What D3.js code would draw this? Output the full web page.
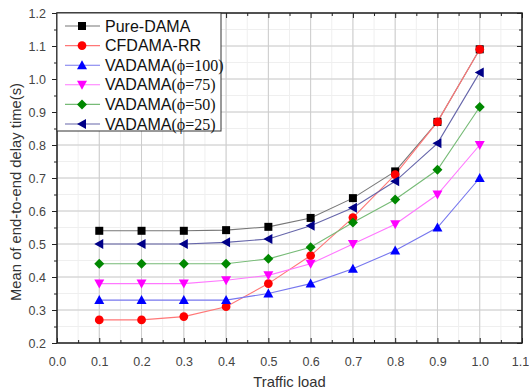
<!DOCTYPE html>
<html>
<head>
<meta charset="utf-8">
<script src="https://cdn.jsdelivr.net/npm/d3@7"></script>
<style>
  body { margin: 0; background: #fff; }
  text { font-family: "Liberation Sans", Arial, sans-serif; }
</style>
</head>
<body>
<div id="chart"></div>
<script>
// data
const loads = [0.1, 0.2, 0.3, 0.4, 0.5, 0.6, 0.7, 0.8, 0.9, 1.0];
const pureDama = [0.54, 0.54, 0.54, 0.542, 0.552, 0.579, 0.639, 0.72, 0.87, 1.09];
const cfdamaRR = [0.27, 0.27, 0.28, 0.31, 0.38, 0.465, 0.58, 0.71, 0.87, 1.09];
const vadama100 = [0.33, 0.33, 0.33, 0.33, 0.35, 0.38, 0.425, 0.48, 0.55, 0.70];
const vadama75 = [0.38, 0.38, 0.38, 0.39, 0.405, 0.44, 0.50, 0.56, 0.65, 0.80];
const vadama50 = [0.44, 0.44, 0.44, 0.44, 0.455, 0.49, 0.565, 0.635, 0.725, 0.915];
const vadama25 = [0.50, 0.50, 0.50, 0.505, 0.515, 0.555, 0.61, 0.69, 0.805, 1.02];
const xTicks = [0, 0.1, 0.2, 0.3, 0.4, 0.5, 0.6, 0.7, 0.8, 0.9, 1.0, 1.1];
const yTicks = [0.2, 0.3, 0.4, 0.5, 0.6, 0.7, 0.8, 0.9, 1.0, 1.1, 1.2];

const series = [
    { name: 'Pure-DAMA', phi: null, values: pureDama, color: '#000', line: '#777', shape: 'square' },
    { name: 'CFDAMA-RR', phi: null, values: cfdamaRR, color: '#f00', line: '#f77', shape: 'circle' },
    { name: 'VADAMA', phi: '100', values: vadama100, color: '#00f', line: '#77e', shape: 'up' },
    { name: 'VADAMA', phi: '75', values: vadama75, color: '#f0f', line: '#f7f', shape: 'down' },
    { name: 'VADAMA', phi: '50', values: vadama50, color: '#080', line: '#7b7', shape: 'diamond' },
    { name: 'VADAMA', phi: '25', values: vadama25, color: '#008', line: '#66a', shape: 'left' }
];

const W = 529, H = 389;
const margin = { top: 13, right: 7, bottom: 46, left: 57 };
const width = W - margin.left - margin.right;
const height = H - margin.top - margin.bottom;

const svg = d3.select('#chart').append('svg')
    .attr('width', W).attr('height', H);
const g = svg.append('g')
    .attr('transform', 'translate(' + margin.left + ',' + margin.top + ')');

const x = d3.scaleLinear().domain([0, 1.1]).range([0, width]);
const y = d3.scaleLinear().domain([0.2, 1.2]).range([height, 0]);

const minorX = d3.range(0, 1.1001, 0.05);
const minorY = d3.range(0.2, 1.2001, 0.05);

// minor grid
g.append('g').selectAll('line').data(minorX).enter().append('line')
    .attr('x1', d => x(d)).attr('x2', d => x(d)).attr('y1', 0).attr('y2', height)
    .attr('stroke', '#efefef');
g.append('g').selectAll('line').data(minorY).enter().append('line')
    .attr('y1', d => y(d)).attr('y2', d => y(d)).attr('x1', 0).attr('x2', width)
    .attr('stroke', '#efefef');
// major grid
g.append('g').selectAll('line').data(xTicks).enter().append('line')
    .attr('x1', d => x(d)).attr('x2', d => x(d)).attr('y1', 0).attr('y2', height)
    .attr('stroke', '#ccc');
g.append('g').selectAll('line').data(yTicks).enter().append('line')
    .attr('y1', d => y(d)).attr('y2', d => y(d)).attr('x1', 0).attr('x2', width)
    .attr('stroke', '#ccc');

// axes
function styleAxis(sel) {
    sel.select('.domain').remove();
    sel.selectAll('line').attr('stroke', '#222');
    sel.selectAll('text').attr('fill', '#444').style('font-size', '12.5px');
}
const xMinorTicks = minorX.filter((d, i) => i % 2 === 1);
const yMinorTicks = minorY.filter((d, i) => i % 2 === 1);

const xAxisG = g.append('g').attr('transform', `translate(0,${height})`)
    .call(d3.axisBottom(x).tickValues(xTicks).tickFormat(d3.format('.1f')).tickSizeInner(-5).tickSizeOuter(0).tickPadding(14))
    .call(styleAxis);
// last label sits at the window edge
xAxisG.selectAll('.tick text').filter(d => d > 1.05).attr('dx', '-2');
g.append('g').attr('transform', `translate(0,${height})`)
    .call(d3.axisBottom(x).tickValues(xMinorTicks).tickFormat('').tickSizeInner(-3).tickSizeOuter(0))
    .call(styleAxis);
g.append('g')
    .call(d3.axisLeft(y).tickValues(yTicks).tickFormat(d3.format('.1f')).tickSizeInner(5).tickSizeOuter(0).tickPadding(6))
    .call(styleAxis);
g.append('g')
    .call(d3.axisLeft(y).tickValues(yMinorTicks).tickFormat('').tickSizeInner(3).tickSizeOuter(0))
    .call(styleAxis);
g.append('g')
    .call(d3.axisTop(x).tickValues(xTicks).tickFormat('').tickSizeInner(-5).tickSizeOuter(0))
    .call(styleAxis);
g.append('g')
    .call(d3.axisTop(x).tickValues(xMinorTicks).tickFormat('').tickSizeInner(-3).tickSizeOuter(0))
    .call(styleAxis);
g.append('g').attr('transform', `translate(${width},0)`)
    .call(d3.axisRight(y).tickValues(yTicks).tickFormat('').tickSizeInner(-5).tickSizeOuter(0))
    .call(styleAxis);
g.append('g').attr('transform', `translate(${width},0)`)
    .call(d3.axisRight(y).tickValues(yMinorTicks).tickFormat('').tickSizeInner(-3).tickSizeOuter(0))
    .call(styleAxis);

g.append('rect').attr('width', width).attr('height', height)
    .attr('fill', 'none').attr('stroke', '#222').attr('stroke-width', 1.5);

// markers
function marker(sel, shape, color) {
    const s = 4;
    let p;
    if (shape === 'square') p = `M${-s},${-s}h${2 * s}v${2 * s}h${-2 * s}Z`;
    else if (shape === 'circle') p = d3.symbol(d3.symbolCircle, 60)();
    else if (shape === 'up') p = `M0,${-s - 1}L${s + 1},${s}L${-s - 1},${s}Z`;
    else if (shape === 'down') p = `M0,${s + 1}L${s + 1},${-s}L${-s - 1},${-s}Z`;
    else if (shape === 'left') p = `M${-s - 1},0L${s},${-s - 1}L${s},${s + 1}Z`;
    else p = `M0,${-s - 1}L${s + 1},0L0,${s + 1}L${-s - 1},0Z`;
    sel.append('path').attr('d', p).attr('fill', color);
}

const line = d3.line().x(d => x(d[0])).y(d => y(d[1]));
series.forEach(s => {
    const pts = loads.map((l, i) => [l, s.values[i]]);
    g.append('path').datum(pts).attr('d', line)
        .attr('fill', 'none').attr('stroke', s.line).attr('stroke-width', 1.1);
});
series.forEach(s => {
    const pts = loads.map((l, i) => [l, s.values[i]]);
    g.append('g').selectAll('g').data(pts).enter().append('g')
        .attr('transform', d => `translate(${x(d[0])},${y(d[1])})`)
        .each(function () { marker(d3.select(this), s.shape, s.color); });
});

// legend
const legend = g.append('g');
legend.append('rect').attr('x', 0).attr('y', 0).attr('width', 164).attr('height', 118)
    .attr('fill', '#fff').attr('stroke', '#333');
series.forEach((s, i) => {
    const ly = 13 + i * 19.6;
    const row = legend.append('g').attr('transform', `translate(0,${ly})`);
    row.append('line').attr('x1', 8).attr('x2', 43).attr('y1', 0).attr('y2', 0)
        .attr('stroke', s.line).attr('stroke-width', 1.1);
    const m = row.append('g').attr('transform', 'translate(25,0)');
    marker(m, s.shape, s.color);
    const t = row.append('text').attr('x', 48).attr('y', 5.5)
        .style('font-size', '16px').attr('fill', '#111').text(s.name);
    if (s.phi) {
        t.append('tspan').style('font-family', '"Liberation Serif", "Times New Roman", serif')
            .style('font-size', '16px').text('(\u03d5=' + s.phi + ')');
    }
});

// titles
svg.append('text').attr('x', margin.left + width / 2).attr('y', 387)
    .attr('text-anchor', 'middle').style('font-size', '14.8px').attr('fill', '#333')
    .text('Traffic load');
svg.append('text')
    .attr('transform', `translate(21,${192}) rotate(-90)`)
    .attr('text-anchor', 'middle').style('font-size', '14.8px').attr('fill', '#333')
    .text('Mean of end-to-end delay time(s)');
</script>
</body>
</html>
